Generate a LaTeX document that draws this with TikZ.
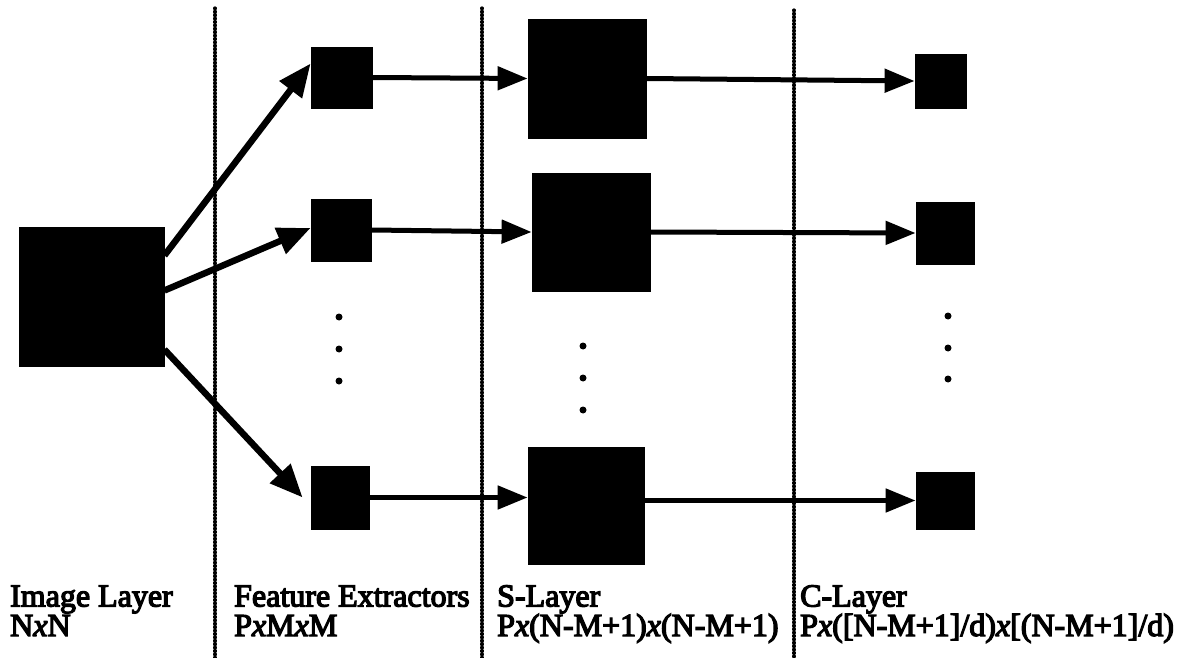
\documentclass[tikz,border=0pt]{standalone}
\usepackage{fontspec}
\setmainfont{Liberation Serif}
\newfontfamily\capfont{Liberation Serif}[FakeBold=4]
\usetikzlibrary{arrows.meta,calc}

\tikzset{
  layer/.style={draw=black, fill=black, line width=0.8pt, inner sep=0pt},
  sep/.style={line width=3.2pt, line cap=round, dash pattern=on 0.8pt off 2.6pt},
  flow/.style={line width=5pt, -{Triangle[length=30pt,width=23pt]}},
  fan/.style={line width=6.5pt, -{Triangle[length=33pt,width=27pt]}},
  ell/.style={fill=black, circle, inner sep=0pt, minimum size=7pt},
  caption/.style={anchor=base west, inner sep=0pt, align=left,
    font=\capfont\fontsize{32}{29.5}\selectfont}
}

\begin{document}
\begin{tikzpicture}[x=1pt,y=-1pt]
\useasboundingbox (0,0) rectangle (1195,658);

% column separators
\coordinate (d1t) at (215,8);   \coordinate (d1b) at (215,658);
\coordinate (d2t) at (482,8);   \coordinate (d2b) at (482,658);
\coordinate (d3t) at (794,10);  \coordinate (d3b) at (794,658);
\draw[sep] (d1t) -- (d1b);
\draw[sep] (d2t) -- (d2b);
\draw[sep] (d3t) -- (d3b);

% image layer
\node[layer, minimum width=145pt, minimum height=139pt] (I) at (91.5,296.5) {};

% feature extractors
\node[layer, minimum width=61pt, minimum height=61pt] (F1) at (341.5,77.5) {};
\node[layer, minimum width=60pt, minimum height=62pt] (F2) at (341,230) {};
\node[layer, minimum width=58pt, minimum height=63pt] (F3) at (340,497.5) {};

% S-layer
\node[layer, minimum width=118pt, minimum height=119pt] (S1) at (587,78.5) {};
\node[layer, minimum width=118pt, minimum height=118pt] (S2) at (591,232) {};
\node[layer, minimum width=116pt, minimum height=117pt] (S3) at (586,505.5) {};

% C-layer
\node[layer, minimum width=51pt, minimum height=54pt] (C1) at (940.5,81) {};
\node[layer, minimum width=58pt, minimum height=62pt] (C2) at (945,233) {};
\node[layer, minimum width=58pt, minimum height=57pt] (C3) at (945,500.5) {};

% ellipsis dots
\node[ell] (fa) at (339,317) {};
\node[ell] (fb) at (339,349) {};
\node[ell] (fc) at (339,381) {};
\node[ell] (sa) at (583,346) {};
\node[ell] (sb) at (583,378) {};
\node[ell] (sc) at (583,410) {};
\node[ell] (ca) at (948,316) {};
\node[ell] (cb) at (948,348) {};
\node[ell] (cc) at (948,379) {};

% fan-out from the image to the extractors
\coordinate (f3tip) at ($(F3.west)+(-8,0)$);
\draw[fan] ([yshift=41pt]I.east) -- ([yshift=14pt]F1.west);
\draw[fan] ([yshift=6pt]I.east) -- ([yshift=2pt]F2.west);
\draw[fan] ([yshift=-53pt]I.east) -- (f3tip);

% extractor -> S-layer -> C-layer
\draw[flow] (F1.east) -- (S1.west);
\draw[flow] (S1.east) -- (C1.west);
\draw[flow] (F2.east) -- (S2.west);
\draw[flow] (S2.east) -- (C2.west);
\draw[flow] (F3.east) -- (F3.east -| S3.west);
\draw[flow] (S3.east |- C3.west) -- (C3.west);

% captions (anchored on the baseline of their last line)
\node[caption] (tI) at (10,636) {Image Layer\\N\textit{x}N};
\node[caption] (tF) at (234,636) {Feature Extractors\\P\textit{x}M\textit{x}M};
\node[caption] (tS) at (497,636) {S-Layer\\P\textit{x}(N-M+1)\textit{x}(N-M+1)};
\node[caption] (tC) at (800,636) {C-Layer\\P\textit{x}([N-M+1]/d)\textit{x}[(N-M+1]/d)};
\end{tikzpicture}
\end{document}
